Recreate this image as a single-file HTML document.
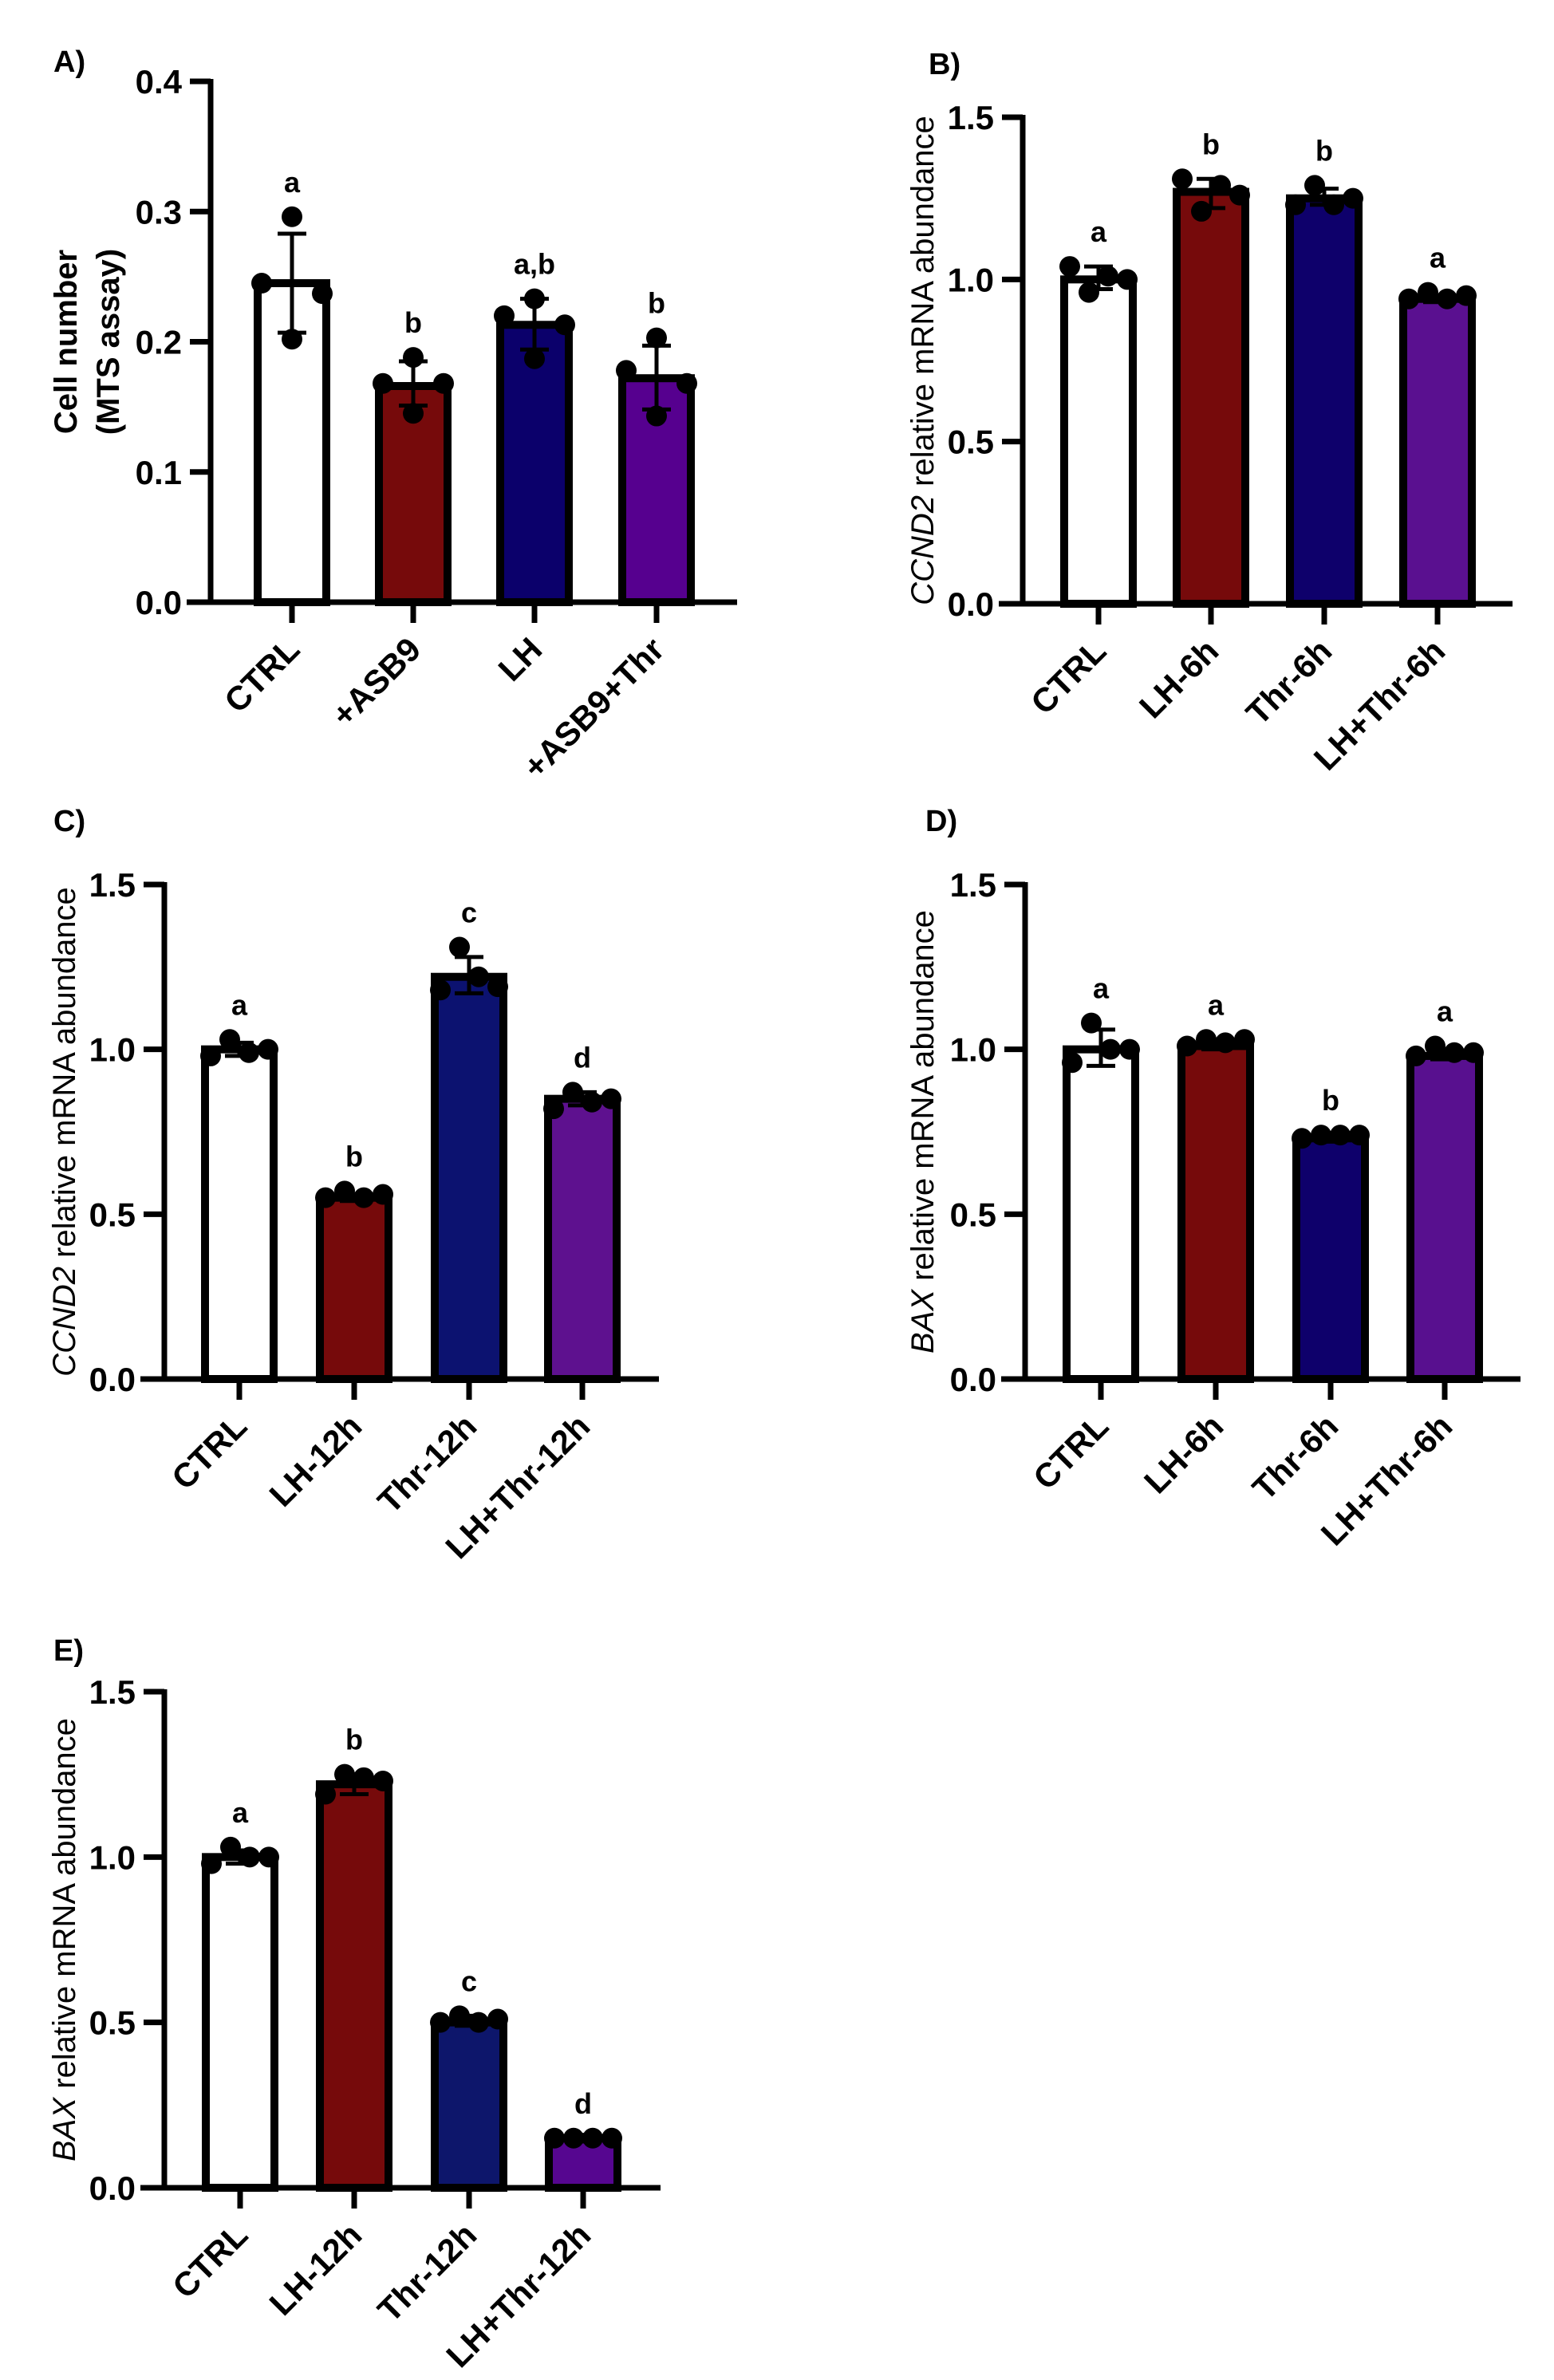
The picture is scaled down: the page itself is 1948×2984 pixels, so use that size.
<!DOCTYPE html>
<html><head><meta charset="utf-8">
<style>
html,body{margin:0;padding:0;background:#fff;}
svg{display:block;font-family:"Liberation Sans",Arial,sans-serif;}
</style></head>
<body>
<svg id="fig" width="1948" height="2984" viewBox="0 0 1948 2984" xmlns="http://www.w3.org/2000/svg"></svg>
<script>
// ---- Data ----
const catsA = ["CTRL","+ASB9","LH","+ASB9+Thr"];
const meanA = [0.245,0.166,0.213,0.172];
const errHiA = [0.283,0.185,0.233,0.197];
const errLoA = [0.207,0.151,0.194,0.148];
const ptsA = [[0.245,0.296,0.202,0.237],[0.168,0.188,0.145,0.168],[0.220,0.233,0.187,0.213],[0.178,0.203,0.143,0.168]];
const lettersA = ["a","b","a,b","b"];
const ticksA = ["0.0","0.1","0.2","0.3","0.4"];

const catsB = ["CTRL","LH-6h","Thr-6h","LH+Thr-6h"];
const meanB = [1.00,1.27,1.25,0.94];
const errHiB = [1.04,1.31,1.28,0.95];
const errLoB = [0.97,1.22,1.23,0.93];
const ptsB = [[1.04,0.96,1.01,1.00],[1.31,1.21,1.29,1.26],[1.23,1.29,1.23,1.25],[0.94,0.96,0.94,0.95]];
const lettersB = ["a","b","b","a"];

const catsC = ["CTRL","LH-12h","Thr-12h","LH+Thr-12h"];
const meanC = [1.00,0.55,1.22,0.85];
const errHiC = [1.02,0.56,1.28,0.87];
const errLoC = [0.98,0.54,1.17,0.83];
const ptsC = [[0.98,1.03,0.99,1.00],[0.55,0.57,0.55,0.56],[1.18,1.31,1.22,1.19],[0.82,0.87,0.84,0.85]];
const lettersC = ["a","b","c","d"];

const catsD = ["CTRL","LH-6h","Thr-6h","LH+Thr-6h"];
const meanD = [1.00,1.01,0.73,0.98];
const errHiD = [1.06,1.03,0.74,1.00];
const errLoD = [0.95,1.00,0.72,0.97];
const ptsD = [[0.96,1.08,1.00,1.00],[1.01,1.03,1.02,1.03],[0.73,0.74,0.74,0.74],[0.98,1.01,0.99,0.99]];
const lettersD = ["a","a","b","a"];

const catsE = ["CTRL","LH-12h","Thr-12h","LH+Thr-12h"];
const meanE = [1.00,1.22,0.50,0.15];
const errHiE = [1.02,1.25,0.52,0.16];
const errLoE = [0.98,1.19,0.49,0.14];
const ptsE = [[0.98,1.03,1.00,1.00],[1.19,1.25,1.24,1.23],[0.50,0.52,0.50,0.51],[0.15,0.15,0.15,0.15]];
const lettersE = ["a","b","c","d"];

const ticks15 = ["0.0","0.5","1.0","1.5"];

const NS = "http://www.w3.org/2000/svg";
const svg = document.getElementById("fig");
function mk(tag, attrs, parent, text){
  const e = document.createElementNS(NS, tag);
  for (const k in attrs) e.setAttribute(k, attrs[k]);
  if (text !== undefined) e.textContent = text;
  (parent||svg).appendChild(e);
  return e;
}

function panel(o){
  const g = mk("g", {});
  
  
  const yMax = o.yMax;
  const y = v => o.y0 - (v / yMax) * (o.y0 - o.yTop);
  const x = i => o.centers[i];
  const pl = mk("text", {x:o.lx, y:o.ly, "font-size":38, "font-weight":"bold"}, g, o.letter);
  
  
  o.means.forEach((m,i)=>{
    const r = mk("rect", {x:x(i)-43, y:y(m), width:86, height:o.y0-y(m), fill:o.colors[i], stroke:"#000", "stroke-width":10}, g);
    
    
  });
  o.means.forEach((m,i)=>{
    const eg = mk("g", {stroke:"#000","stroke-width":5}, g);
    
    
    mk("line",{x1:x(i),x2:x(i),y1:y(o.hi[i]),y2:y(o.lo[i])},eg);
    mk("line",{x1:x(i)-18,x2:x(i)+18,y1:y(o.hi[i]),y2:y(o.hi[i])},eg);
    mk("line",{x1:x(i)-18,x2:x(i)+18,y1:y(o.lo[i]),y2:y(o.lo[i])},eg);
  });
  o.pts.forEach((arr,i)=>{
    arr.forEach((v,j)=>{
      const c = mk("circle",{cx:x(i)+o.jit[j], cy:y(v), r:13, fill:"#000"}, g);
      
      
    });
  });
  o.letters.forEach((l,i)=>{
    const top = Math.min(y(o.hi[i]), ...o.pts[i].map(v=>y(v)-13));
    const t = mk("text",{x:x(i), y:top-18, "font-size":36, "font-weight":"bold", "text-anchor":"middle"}, g, l);
    
    
  });
  const ax = mk("g",{stroke:"#000","stroke-width":7}, g);
  
  
  mk("line",{x1:o.axisX,x2:o.axisX,y1:o.yTop-3,y2:o.y0+3},ax);
  mk("line",{x1:o.axisX-30,x2:o.xEnd,y1:o.y0,y2:o.y0},ax);
  o.ticks.forEach((t,k)=>{
    const v = parseFloat(t);
    mk("line",{x1:o.axisX-26,x2:o.axisX,y1:y(v),y2:y(v)},ax);
    const tl = mk("text",{x:o.axisX-36, y:y(v)+15, "font-size":42, "font-weight":"bold","text-anchor":"end"}, g, t);
    
    
  });
  o.cats.forEach((c,i)=>{
    mk("line",{x1:x(i),x2:x(i),y1:o.y0,y2:o.y0+26,stroke:"#000","stroke-width":7},g);
    const tx = x(i)+12, ty = o.y0+62;
    const tl = mk("text",{x:tx, y:ty, "font-size":42, "font-weight":"bold","text-anchor":"end",
      transform:`rotate(-45 ${tx} ${ty})`}, g, c);
    
    
  });
  const cy = (o.y0 + o.yTop)/2;
  const yt = mk("text",{x:o.tx, y:cy, "font-size":o.tBold?40:40, "text-anchor":"middle",
      transform:`rotate(-90 ${o.tx} ${cy})`, "font-weight":o.tBold?"bold":"normal"}, g);
  
  
  o.title(yt);
}

function ital(el, it, rest){
  mk("tspan",{"font-style":"italic"},el,it);
  mk("tspan",{},el,rest);
}

const whiteRedNavyPurple = (n,p)=>["#ffffff","#760a0b",n,p];
const jit4 = [-36,-12,12,36];

panel({id:"panel-a", letter:"A)", lx:67, ly:90, axisX:264, yTop:102, y0:755, xEnd:924, yMax:0.4,
  centers:[366,518,670,823], cats:catsA, means:meanA, hi:errHiA, lo:errLoA, pts:ptsA, letters:lettersA,
  ticks:ticksA, colors:whiteRedNavyPurple("#0b006b","#56008f"), jit:[-38,0,0,38], tx:108, tBold:true,
  title:(el)=>{ mk("tspan",{x:108, dy:-12},el,"Cell number"); mk("tspan",{x:108, dy:53},el,"(MTS assay)"); }});

panel({id:"panel-b", letter:"B)", lx:1164, ly:93, axisX:1282, yTop:147, y0:757, xEnd:1896, yMax:1.5,
  centers:[1377,1518,1660,1802], cats:catsB, means:meanB, hi:errHiB, lo:errLoB, pts:ptsB, letters:lettersB,
  ticks:ticks15, colors:whiteRedNavyPurple("#0e006b","#5a1090"), jit:jit4, tx:1170,
  title:(el)=>ital(el,"CCND2"," relative mRNA abundance")});

panel({id:"panel-c", letter:"C)", lx:67, ly:1042, axisX:206, yTop:1109, y0:1729, xEnd:826, yMax:1.5,
  centers:[300,444,588,730], cats:catsC, means:meanC, hi:errHiC, lo:errLoC, pts:ptsC, letters:lettersC,
  ticks:ticks15, colors:whiteRedNavyPurple("#0c1270","#5e118f"), jit:jit4, tx:94,
  title:(el)=>ital(el,"CCND2"," relative mRNA abundance")});

panel({id:"panel-d", letter:"D)", lx:1160, ly:1042, axisX:1285, yTop:1109, y0:1729, xEnd:1906, yMax:1.5,
  centers:[1380,1524,1668,1811], cats:catsD, means:meanD, hi:errHiD, lo:errLoD, pts:ptsD, letters:lettersD,
  ticks:ticks15, colors:whiteRedNavyPurple("#0e006b","#58108f"), jit:jit4, tx:1170,
  title:(el)=>ital(el,"BAX"," relative mRNA abundance")});

panel({id:"panel-e", letter:"E)", lx:67, ly:2082, axisX:206, yTop:2121, y0:2743, xEnd:828, yMax:1.5,
  centers:[301,444,588,731], cats:catsE, means:meanE, hi:errHiE, lo:errLoE, pts:ptsE, letters:lettersE,
  ticks:ticks15, colors:whiteRedNavyPurple("#0d166b","#560690"), jit:jit4, tx:94,
  title:(el)=>ital(el,"BAX"," relative mRNA abundance")});
</script>
</body></html>
